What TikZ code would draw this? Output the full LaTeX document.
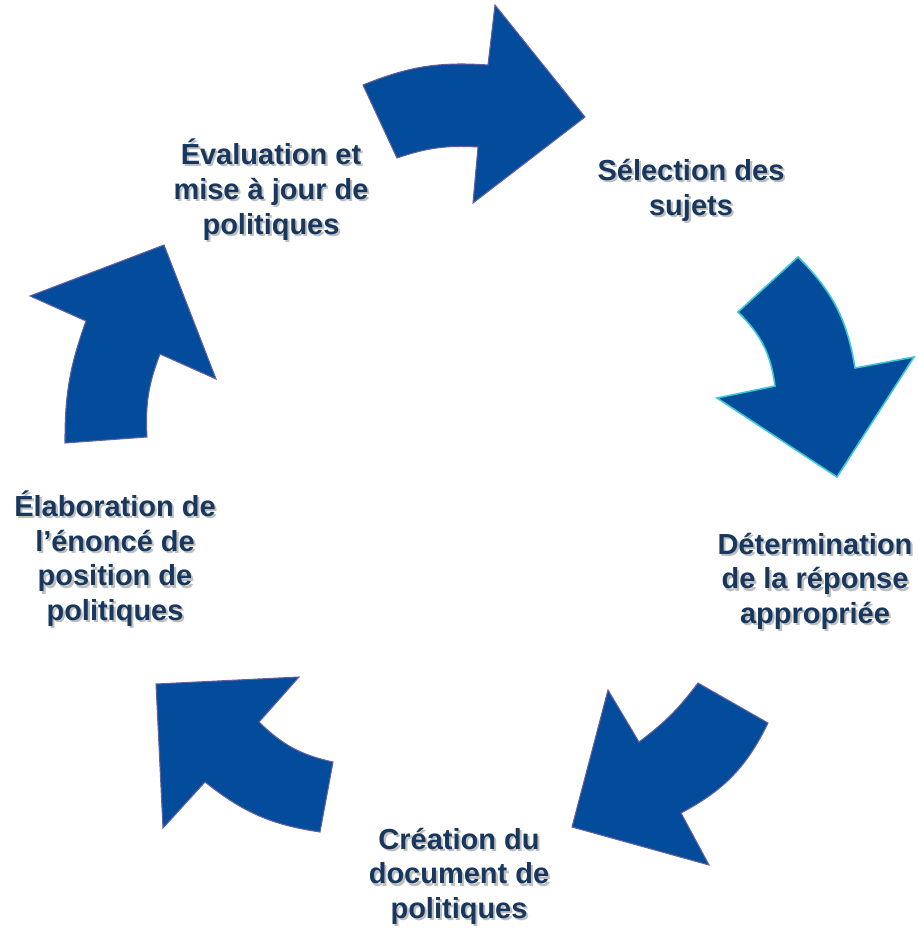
\documentclass[tikz,border=0pt]{standalone}
\usepackage{fontspec}
\setmainfont{Liberation Sans}
\usepackage{xcolor}

\definecolor{arrowblue}{RGB}{3,75,155}
\definecolor{arrowedge}{RGB}{100,96,160}
\definecolor{arrowcyan}{RGB}{60,200,210}
\definecolor{labelnavy}{RGB}{23,55,94}

% label text with its light drop shadow
\newcommand{\stagetext}[1]{%
  \rlap{\kern1.2pt\raisebox{-1.2pt}{\color{black!25}\begin{tabular}{@{}c@{}}#1\end{tabular}}}%
  \begin{tabular}{@{}c@{}}#1\end{tabular}}

\begin{document}
\begin{tikzpicture}[
    x=0.02cm, y=-0.02cm,
    cyclearrow/.style={
        fill=arrowblue,
        draw=arrowedge,
        line width=0.6pt,
        line join=miter
    },
    stage/.style={
        text=labelnavy,
        font=\bfseries\fontsize{16.5}{19.8}\selectfont,
        inner sep=0pt
    }
]
    \useasboundingbox (0,0) rectangle (917,929);

    % 1. Arrow (Top)
    \draw[cyclearrow] (363,85) to[bend left=13] (488,65) -- (495,5) -- (585,117)
        -- (473,203) -- (478,147) to[bend right=11] (397,158) -- cycle;

    % 2. Arrow (Right)
    \draw[cyclearrow, draw=arrowcyan, line width=0.9pt] (798,257) to[bend left=18] (855,368)
        -- (914,357) -- (837,477) -- (717,398) -- (775,386) to[bend right=19] (738,312) -- cycle;

    % 3. Arrow (Bottom Right)
    \draw[cyclearrow] (768,723) -- (698,683) to[bend left=8] (639,742) -- (608,690)
        -- (572,827) -- (709,865) -- (681,813) to[bend right=18] cycle;

    % 4. Arrow (Bottom Left)
    \draw[cyclearrow] (333,762) -- (320,832) to[bend left=15] (205,782) -- (163,828)
        -- (156,684) -- (299,677) -- (259,722) to[bend right=16] cycle;

    % 5. Arrow (Left)
    \draw[cyclearrow] (65,443) -- (147,437) to[bend left=12] (160,354) -- (216,379)
        -- (164,245) -- (30,296) -- (86,321) to[bend right=10] cycle;

    % Stages
    \node (evaluation) [stage] at (271,193) {\stagetext{Évaluation et\\mise à jour de\\politiques}};
    \node (selection) [stage] at (691,192) {\stagetext{Sélection des\\sujets}};
    \node (reponse) [stage] at (815,583) {\stagetext{Détermination\\de la réponse\\appropriée}};
    \node (creation) [stage] at (459,878) {\stagetext{Création du\\document de\\politiques}};
    \node (enonce) [stage] at (115,562) {\stagetext{Élaboration de\\l’énoncé de\\position de\\politiques}};

\end{tikzpicture}
\end{document}
